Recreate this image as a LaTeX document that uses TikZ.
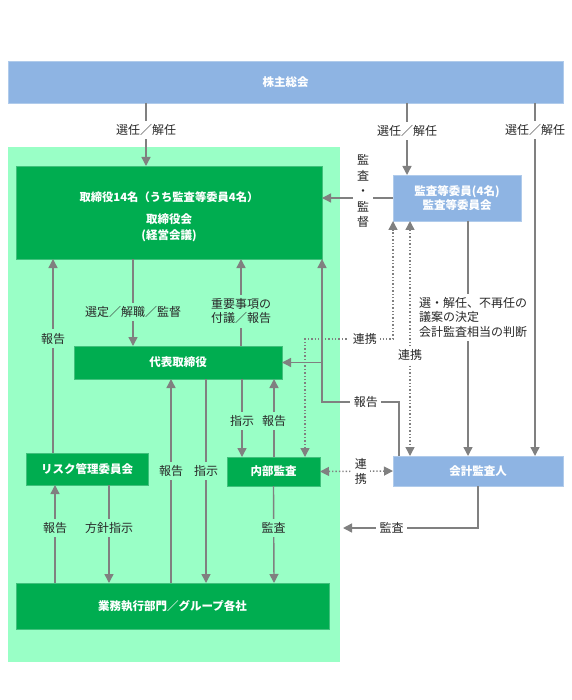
\documentclass[tikz,border=0pt]{standalone}
\usepackage{fontspec}
\setmainfont{Noto Sans CJK JP}
\usetikzlibrary{arrows.meta}

\definecolor{c8eb4e3}{RGB}{142,180,227}
\definecolor{c00ad50}{RGB}{0,173,80}
\definecolor{c99ffc6}{RGB}{153,255,198}
\definecolor{c808080}{RGB}{128,128,128}
\definecolor{c333333}{RGB}{40,40,40}

\begin{document}
\begin{tikzpicture}[y=1pt, x=1pt, yscale=-1, inner sep=0pt, outer sep=0pt,
  bluebox/.style={fill=c8eb4e3, draw=c8eb4e3!70!white, line width=0.8pt,
    text=white, font=\fontsize{11.5}{14}\selectfont\bfseries, align=center},
  greenbox/.style={fill=c00ad50, draw=c00ad50!75!white, line width=0.8pt,
    text=white, font=\fontsize{11.5}{14}\selectfont\bfseries, align=center},
  arr/.style={draw=c808080, line width=1.4pt,
    -{Triangle[width=9pt,length=9pt]}},
  dotarr/.style={draw=c808080, line width=1.4pt, dotted,
    {Triangle[width=9pt,length=9pt]}-{Triangle[width=9pt,length=9pt]}},
  lbl/.style={fill=white, text=c333333, inner sep=3.5pt,
    font=\fontsize{12}{14.5}\selectfont, align=center},
  glbl/.style={lbl, fill=c99ffc6}]
\useasboundingbox (0,0) rectangle (571,700);

% group background
\path[fill=c99ffc6] (8,147) rectangle (340,662);

% boxes
\node[bluebox, minimum width=555, minimum height=42] (gm) at (285.5,82) {株主総会};
\node[greenbox, minimum width=306, minimum height=93] (board) at (169,212.5) {};
\node[text=white, font=\fontsize{11.3}{14}\selectfont\bfseries] (boardtitle) at (169,197) {取締役14名（うち監査等委員4名）};
\node[text=white, font=\fontsize{11.5}{15.5}\selectfont\bfseries, align=center] (boardsub) at (169,228) {取締役会\\(経営会議)};
\node[bluebox, minimum width=128, minimum height=46] (audcom) at (457,198) {監査等委員(4名)\\監査等委員会};
\node[greenbox, minimum width=208, minimum height=33] (ceo) at (178,362.5) {代表取締役};
\node[greenbox, minimum width=122, minimum height=32] (risk) at (87,469) {リスク管理委員会};
\node[greenbox, minimum width=93, minimum height=29] (internal) at (273.5,471.5) {内部監査};
\node[bluebox, minimum width=170, minimum height=30] (acct) at (478,471) {会計監査人};
\node[greenbox, minimum width=313, minimum height=46] (ops) at (172.5,606) {業務執行部門／グループ各社};
\coordinate (auditend) at (343,528);

% shareholders
\draw[arr] ([xshift=-139.5pt]gm.south) -- node[lbl, pos=0.43] (l1) {選任／解任} ([xshift=-23pt]board.north);
\draw[arr] ([xshift=121.5pt]gm.south) -- node[lbl, pos=0.386] (l2) {選任／解任} ([xshift=-50pt]audcom.north);
\draw[arr] ([xshift=249.5pt]gm.south) -- node[lbl, pos=0.076] (l3) {選任／解任} ([xshift=57pt]acct.north);

% audit committee
\draw[arr] (audcom.west) -- (board.east |- audcom.west);
\node[lbl, font=\fontsize{12}{15.5}\selectfont, inner xsep=4pt] (l4) at (363,191) {監\\査\\・\\監\\督};
\draw[dotarr] ([xshift=31.5pt]internal.north) -- ++(0,-118) -- node[lbl, pos=0.68] (l5) {連携} ++(88,0) -- (audcom.south west);
\draw[dotarr] ([xshift=-47pt]audcom.south) -- node[lbl, pos=0.57] (l6) {連携} ([xshift=-68pt]acct.north);
\draw[arr] ([xshift=11pt]audcom.south) -- node[lbl, pos=0.41, xshift=5pt, align=left] (l7) {選・解任、不再任の\\議案の決定\\会計監査相当の判断} ([xshift=-10pt]acct.north);

% accounting auditor
\draw[arr] ([xshift=-79pt]acct.north) -- ++(0,-54) -- node[lbl, pos=0.43] (l8) {報告} ++(-77,0) -- (board.south east);
\draw[arr] (board.south east |- ceo.east) -- (ceo.east);
\draw[dotarr] (internal.east) -- node[lbl, pos=0.56, font=\fontsize{12}{15.5}\selectfont] (l9) {連\\携} (acct.west);
\draw[arr] (acct.south) |- node[lbl, pos=0.82] (l10) {監査} (auditend);

% board and ceo
\draw[arr] ([xshift=-36pt]board.south) -- node[glbl, pos=0.61] (l11) {選定／解職／監督} ([xshift=-45pt]ceo.north);
\draw[arr] ([xshift=63pt]ceo.north) -- node[glbl, pos=0.40] (l12) {重要事項の\\付議／報告} ([xshift=72pt]board.south);
\draw[arr] ([xshift=-34pt]risk.north) -- node[glbl, pos=0.59] (l13) {報告} ([xshift=-116pt]board.south);

% risk committee
\draw[arr] ([xshift=-117.5pt]ops.north) -- node[glbl, pos=0.56] (l14) {報告} ([xshift=-32pt]risk.south);
\draw[arr] ([xshift=22pt]risk.south) -- node[glbl, pos=0.44] (l15) {方針指示} ([xshift=-63.5pt]ops.north);

% ceo and operations
\draw[arr] ([xshift=-1.5pt]ops.north) -- node[glbl, pos=0.55] (l16) {報告} ([xshift=-7pt]ceo.south);
\draw[arr] ([xshift=28pt]ceo.south) -- node[glbl, pos=0.45] (l17) {指示} ([xshift=33.5pt]ops.north);

% internal audit
\draw[arr] ([xshift=64pt]ceo.south) -- node[glbl, pos=0.54] (l18) {指示} ([xshift=-31.5pt]internal.north);
\draw[arr] ([xshift=0.5pt]internal.north) -- node[glbl, pos=0.46] (l19) {報告} ([xshift=96pt]ceo.south);
\draw[arr] (internal.south) -- node[glbl, pos=0.43] (l20) {監査} ([xshift=101.5pt]ops.north);

\end{tikzpicture}
\end{document}
